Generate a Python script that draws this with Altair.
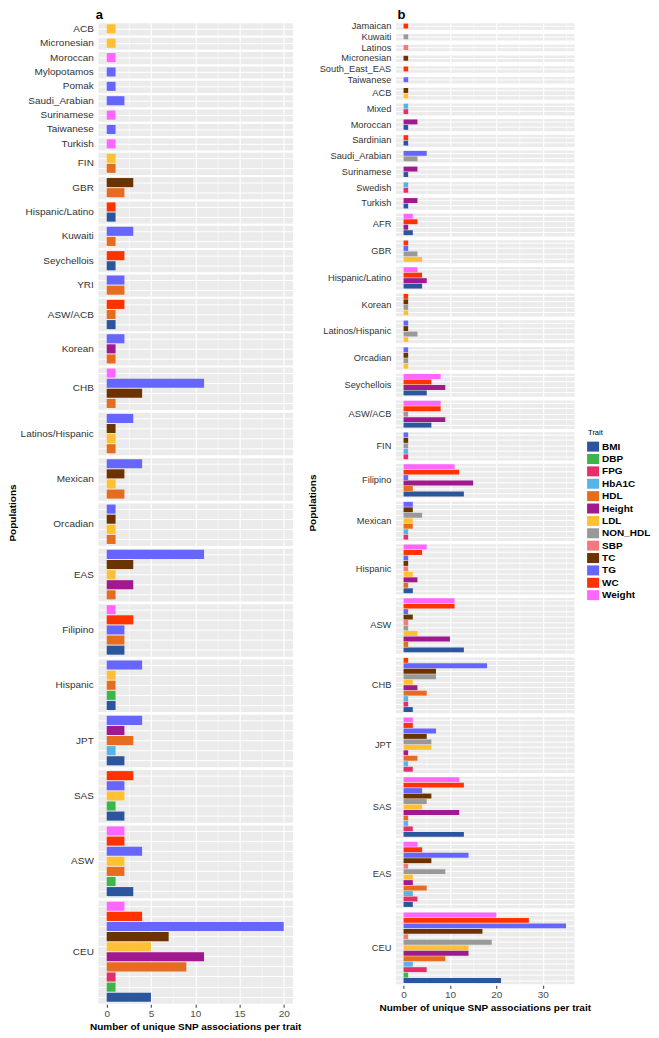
import altair as alt
import pandas as pd

FONT = "Liberation Sans"

TRAITS = ["BMI", "DBP", "FPG", "HbA1C", "HDL", "Height", "LDL",
          "NON_HDL", "SBP", "TC", "TG", "WC", "Weight"]
TRAIT_COLORS = ["#2b559c", "#3cb54a", "#e3306b", "#56b4e9", "#e66d1f",
                "#a0198f", "#ffc133", "#999999", "#f07b7e", "#6a3300",
                "#6666ff", "#ff3300", "#ff66ff"]

# ---------------- panel a ----------------
A_POPULATIONS = ["ACB", "Micronesian", "Moroccan", "Mylopotamos", "Pomak",
                 "Saudi_Arabian", "Surinamese", "Taiwanese", "Turkish", "FIN",
                 "GBR", "Hispanic/Latino", "Kuwaiti", "Seychellois", "YRI",
                 "ASW/ACB", "Korean", "CHB", "Latinos/Hispanic", "Mexican",
                 "Orcadian", "EAS", "Filipino", "Hispanic", "JPT", "SAS",
                 "ASW", "CEU"]
A_TRAITS = [
    ["LDL"], ["LDL"], ["Weight"], ["TG"], ["TG"], ["TG"], ["Weight"], ["TG"], ["Weight"],
    ["LDL", "HDL"], ["TC", "HDL"], ["WC", "BMI"], ["TG", "HDL"], ["WC", "BMI"], ["TG", "HDL"],
    ["WC", "HDL", "BMI"], ["TG", "Height", "HDL"],
    ["Weight", "TG", "TC", "HDL"], ["TG", "TC", "LDL", "HDL"], ["TG", "TC", "LDL", "HDL"],
    ["TG", "TC", "LDL", "HDL"],
    ["TG", "TC", "LDL", "Height", "HDL"], ["Weight", "WC", "TG", "HDL", "BMI"],
    ["TG", "LDL", "HDL", "DBP", "BMI"], ["TG", "Height", "HDL", "HbA1C", "BMI"],
    ["WC", "TG", "LDL", "DBP", "BMI"],
    ["Weight", "WC", "TG", "LDL", "HDL", "DBP", "BMI"],
    ["Weight", "WC", "TG", "TC", "LDL", "Height", "HDL", "FPG", "DBP", "BMI"],
]
A_COUNTS = [
    [1], [1], [1], [1], [1], [2], [1], [1], [1],
    [1, 1], [3, 2], [1, 1], [3, 1], [2, 1], [2, 2],
    [2, 1, 1], [2, 1, 1],
    [1, 11, 4, 1], [3, 1, 1, 1], [4, 2, 1, 2], [1, 1, 1, 1],
    [11, 3, 1, 3, 1], [1, 3, 2, 2, 2], [4, 1, 1, 1, 1], [4, 2, 3, 1, 2],
    [3, 2, 2, 1, 2],
    [2, 2, 4, 2, 2, 1, 3],
    [2, 4, 20, 7, 5, 11, 9, 1, 1, 5],
]

# ---------------- panel b ----------------
B_POPULATIONS = ["Jamaican", "Kuwaiti", "Latinos", "Micronesian", "South_East_EAS",
                 "Taiwanese", "ACB", "Mixed", "Moroccan", "Sardinian",
                 "Saudi_Arabian", "Surinamese", "Swedish", "Turkish", "AFR", "GBR",
                 "Hispanic/Latino", "Korean", "Latinos/Hispanic", "Orcadian",
                 "Seychellois", "ASW/ACB", "FIN", "Filipino", "Mexican", "Hispanic",
                 "ASW", "CHB", "JPT", "SAS", "EAS", "CEU"]
B_TRAITS = [
    ["WC"], ["NON_HDL"], ["SBP"], ["TC"], ["WC"], ["TG"],
    ["TC", "LDL"], ["HbA1C", "FPG"], ["Height", "BMI"], ["WC", "BMI"],
    ["TG", "NON_HDL"], ["Height", "BMI"], ["HbA1C", "FPG"], ["Height", "BMI"],
    ["Weight", "WC", "Height", "BMI"], ["WC", "TG", "NON_HDL", "LDL"],
    ["Weight", "WC", "Height", "BMI"], ["WC", "TC", "NON_HDL", "LDL"],
    ["TG", "TC", "NON_HDL", "LDL"], ["TG", "TC", "NON_HDL", "LDL"],
    ["Weight", "WC", "Height", "BMI"],
    ["Weight", "WC", "NON_HDL", "Height", "BMI"],
    ["TG", "TC", "NON_HDL", "HbA1C", "FPG"],
    ["Weight", "WC", "TG", "Height", "HDL", "BMI"],
    ["TG", "TC", "NON_HDL", "LDL", "HDL", "HbA1C", "FPG"],
    ["Weight", "WC", "TG", "TC", "SBP", "LDL", "Height", "HDL", "BMI"],
    ["Weight", "WC", "TG", "TC", "SBP", "NON_HDL", "LDL", "Height", "HDL", "BMI"],
    ["WC", "TG", "TC", "NON_HDL", "LDL", "Height", "HDL", "HbA1C", "FPG", "BMI"],
    ["Weight", "WC", "TG", "TC", "NON_HDL", "LDL", "Height", "HDL", "HbA1C", "FPG"],
    ["Weight", "WC", "TG", "TC", "NON_HDL", "LDL", "Height", "HDL", "HbA1C", "FPG", "BMI"],
    ["Weight", "WC", "TG", "TC", "SBP", "NON_HDL", "LDL", "Height", "HDL", "HbA1C", "FPG", "BMI"],
    ["Weight", "WC", "TG", "TC", "SBP", "NON_HDL", "LDL", "Height", "HDL", "HbA1C", "FPG", "DBP", "BMI"],
]
B_COUNTS = [
    [1], [1], [1], [1], [1], [1],
    [1, 1], [1, 1], [3, 1], [1, 1],
    [5, 3], [3, 1], [1, 1], [3, 1],
    [2, 3, 1, 2], [1, 1, 3, 4],
    [3, 4, 5, 4], [1, 1, 1, 1],
    [1, 1, 3, 1], [1, 1, 1, 1],
    [8, 6, 9, 5],
    [8, 8, 1, 9, 6],
    [1, 1, 1, 1, 1],
    [11, 12, 1, 15, 2, 13],
    [2, 2, 4, 2, 2, 1, 1],
    [5, 4, 1, 1, 1, 2, 3, 1, 2],
    [11, 11, 1, 2, 1, 1, 3, 10, 1, 13],
    [1, 18, 7, 7, 2, 3, 5, 1, 1, 2],
    [2, 2, 7, 5, 6, 6, 1, 3, 1, 2],
    [12, 13, 4, 6, 5, 4, 12, 1, 1, 2, 13],
    [3, 4, 14, 6, 1, 9, 2, 2, 5, 2, 3, 2],
    [20, 27, 35, 17, 1, 19, 14, 14, 9, 2, 5, 1, 21],
]

A_TICKS = [0, 2.5, 5, 7.5, 10, 12.5, 15, 17.5, 20]
B_TICKS = [0, 5, 10, 15, 20, 25, 30, 35]
A_XDOMAIN = [-1, 21]
B_XDOMAIN = [-1.75, 36.75]
X_TITLE = "Number of unique SNP associations per trait"


def to_frame(pops, traits, counts):
    rows = []
    for p, ts, cs in zip(pops, traits, counts):
        for t, c in zip(ts, cs):
            rows.append({"Population": p, "Trait": t, "Count": c})
    return pd.DataFrame(rows)


def panel(df, pops, ticks, domain, major, width, step, spacing, label_size, tag, tag_dx):
    minor_test = f"datum.value % {major} !== 0"
    color = alt.Color(
        "Trait:N",
        scale=alt.Scale(domain=TRAITS, range=TRAIT_COLORS),
        legend=alt.Legend(
            title=[" ", "Trait"], orient="right", offset=-3, padding=0,
            titleFontSize=7.5, titleFontWeight="normal", titleColor="black",
            titleFont=FONT, titlePadding=5, titleLineHeight=407,
            labelFontSize=10, labelFontWeight="bold", labelColor="black",
            labelFont=FONT, labelOffset=4,
            symbolType="M-1.2,-1L1.2,-1L1.2,1L-1.2,1Z", symbolSize=100,
            symbolStrokeWidth=0, symbolOpacity=1, rowPadding=2.4,
        ),
    )
    bars = alt.Chart(df).mark_bar().encode(
        x=alt.X(
            "Count:Q",
            scale=alt.Scale(domain=domain, nice=False, zero=False),
            axis=alt.Axis(
                values=ticks, title=X_TITLE,
                labelExpr=f"{minor_test} ? '' : datum.label",
                grid=True, gridColor="white",
                gridWidth={"condition": {"test": minor_test, "value": 0.5}, "value": 1.1},
                tickColor={"condition": {"test": minor_test, "value": "transparent"}, "value": "#333333"},
                tickSize=3, domain=False, labelFontSize=10, labelColor="#4d4d4d",
                labelFont=FONT, labelPadding=1,
                titleFontSize=10, titleFontWeight="bold", titleColor="black",
                titleFont=FONT, titlePadding=3,
            ),
        ),
        y=alt.Y(
            "Trait:N", sort=TRAITS[::-1],
            scale=alt.Scale(paddingInner=0.1, paddingOuter=0.15),
            axis=alt.Axis(title=None, labels=False, ticks=False, domain=False,
                          grid=True, gridColor="white", gridWidth=1,
                          bandPosition=0.5, minExtent=0, maxExtent=0),
        ),
        color=color,
    ).properties(width=width, height=alt.Step(step))

    return bars.facet(
        row=alt.Row(
            "Population:N", sort=pops, title="Populations",
            header=alt.Header(
                labelAngle=0, labelAlign="left", labelOrient="left",
                labelPadding=3, labelFontSize=label_size, labelColor="#333333",
                labelFont=FONT, labelBaseline="middle",
                titleOrient="left", titleFontSize=10, titleFontWeight="bold",
                titleFont=FONT, titleColor="black", titlePadding=-8,
            ),
        ),
        spacing=spacing,
        title=alt.TitleParams(tag, anchor="start", fontSize=13, fontWeight="bold",
                              font=FONT, color="black", dx=tag_dx, offset=0),
    ).resolve_scale(y="independent")


df_a = to_frame(A_POPULATIONS, A_TRAITS, A_COUNTS)
df_b = to_frame(B_POPULATIONS, B_TRAITS, B_COUNTS)

pa = panel(df_a, A_POPULATIONS, A_TICKS, A_XDOMAIN, 5, 195, 10.12, 0.4, 10, "a", 88)
pb = panel(df_b, B_POPULATIONS, B_TICKS, B_XDOMAIN, 10, 179, 5.48, 1.75, 9.3, "b", 90)

chart = (
    alt.hconcat(pa, pb, spacing=6)
    .properties(padding={"left": 0, "top": 0, "right": 0, "bottom": 0})
    .configure(font=FONT)
    .configure_view(fill="#ebebeb", stroke="transparent")
)

chart.save("out.html", embed_options={"renderer": "svg", "actions": False})
